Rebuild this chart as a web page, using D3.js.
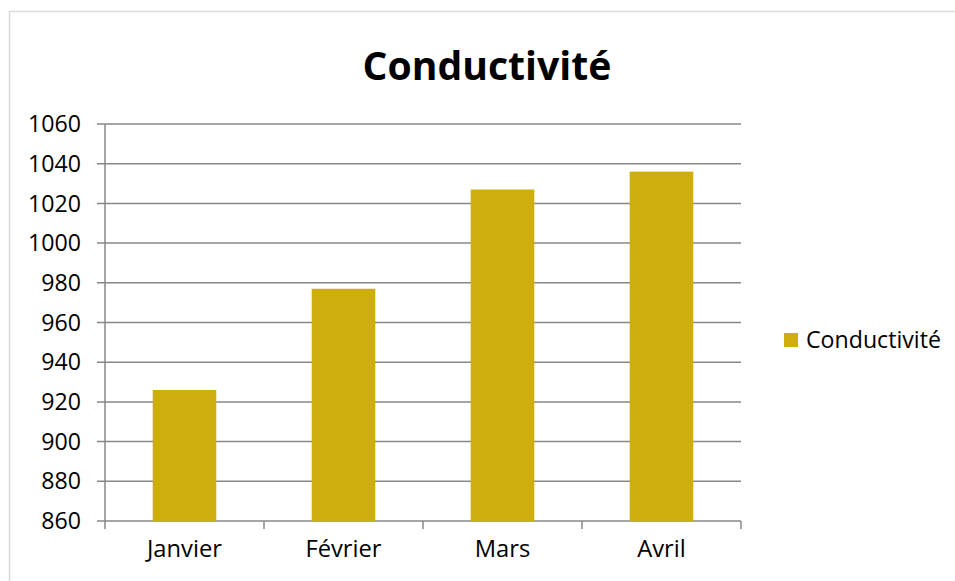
<!DOCTYPE html>
<html>
<head>
<meta charset="utf-8">
<script src="https://cdn.jsdelivr.net/npm/d3@7"></script>
<style>
  body { margin: 0; background: #fff; }
  text { font-family: "Open Sans", sans-serif; fill: #000; font-variant-ligatures: none; }
</style>
</head>
<body>
<script>
var w = 955;
var h = 581;

// data
var months = ["Janvier", "Février", "Mars", "Avril"];
var conductivite = [926, 977, 1027, 1036];
var yTicks = [860, 880, 900, 920, 940, 960, 980, 1000, 1020, 1040, 1060];
var seriesName = "Conductivité";

var svg = d3.select("body").append("svg")
  .attr("width", w)
  .attr("height", h);

// shrink a text's font until it is as wide as in the original
function fitWidth(sel, target, size) {
  sel.style("font-size", size + "px");
  var len = sel.node().getComputedTextLength();
  sel.style("font-size", (size * target / len).toFixed(2) + "px");
}

// chart border
svg.append("rect")
  .attr("x", 9.5).attr("y", 11.5)
  .attr("width", 960).attr("height", 600)
  .attr("fill", "none")
  .attr("stroke", "#d9d9d9")
  .attr("stroke-width", 1.5);

var plot = { left: 105, right: 741, top: 124, bottom: 521 };

var x = d3.scaleBand()
  .domain(months)
  .range([plot.left, plot.right]);

var y = d3.scaleLinear()
  .domain([860, 1060])
  .range([plot.bottom, plot.top]);

// gridlines
svg.append("g")
  .selectAll("line")
  .data(yTicks)
  .enter().append("line")
  .attr("x1", plot.left - 8)
  .attr("x2", plot.right)
  .attr("y1", d => y(d))
  .attr("y2", d => y(d))
  .attr("stroke", "#878787")
  .attr("stroke-width", 1.5);

// y axis line
svg.append("line")
  .attr("x1", plot.left).attr("x2", plot.left)
  .attr("y1", plot.top).attr("y2", plot.bottom)
  .attr("stroke", "#878787")
  .attr("stroke-width", 1.5);

// x axis ticks (category boundaries)
var bounds = months.map(d => x(d)).concat([plot.right]);
svg.append("g")
  .selectAll("line")
  .data(bounds)
  .enter().append("line")
  .attr("x1", d => d).attr("x2", d => d)
  .attr("y1", plot.bottom).attr("y2", plot.bottom + 8)
  .attr("stroke", "#878787")
  .attr("stroke-width", 1.5);

// y labels
var yLab = svg.append("g")
  .selectAll("text")
  .data(yTicks)
  .enter().append("text")
  .attr("x", 81)
  .attr("y", d => y(d))
  .attr("dy", "0.35em")
  .attr("text-anchor", "end")
  .text(d => d);
var probe = yLab.filter(d => d == 1060);
fitWidth(probe, 53, 18);
yLab.style("font-size", probe.style("font-size"));

// bars
var barW = x.bandwidth() * 0.4;
svg.append("g")
  .selectAll("rect")
  .data(conductivite)
  .enter().append("rect")
  .attr("x", (d, i) => x(months[i]) + (x.bandwidth() - barW) / 2)
  .attr("y", d => y(d))
  .attr("width", barW)
  .attr("height", d => y(860) - y(d))
  .attr("fill", "#cdae0c");

// x labels
var xLab = svg.append("g")
  .selectAll("text")
  .data(months)
  .enter().append("text")
  .attr("x", d => x(d) + x.bandwidth() / 2)
  .attr("y", 557)
  .attr("text-anchor", "middle")
  .text(d => d);
var probeX = xLab.filter(d => d == "Janvier");
fitWidth(probeX, 75, 18);
xLab.style("font-size", probeX.style("font-size"));

// title
var title = svg.append("text")
  .attr("x", 487)
  .attr("y", 80)
  .attr("text-anchor", "middle")
  .style("font-weight", "bold")
  .text(seriesName);
fitWidth(title, 249, 34);

// legend
var legend = svg.append("g").attr("transform", "translate(784,333)");
legend.append("rect")
  .attr("width", 14).attr("height", 14)
  .attr("fill", "#cdae0c");
var legText = legend.append("text")
  .attr("x", 22)
  .attr("y", 7)
  .attr("dy", "0.35em")
  .text(seriesName);
fitWidth(legText, 135, 18);
</script>
</body>
</html>
